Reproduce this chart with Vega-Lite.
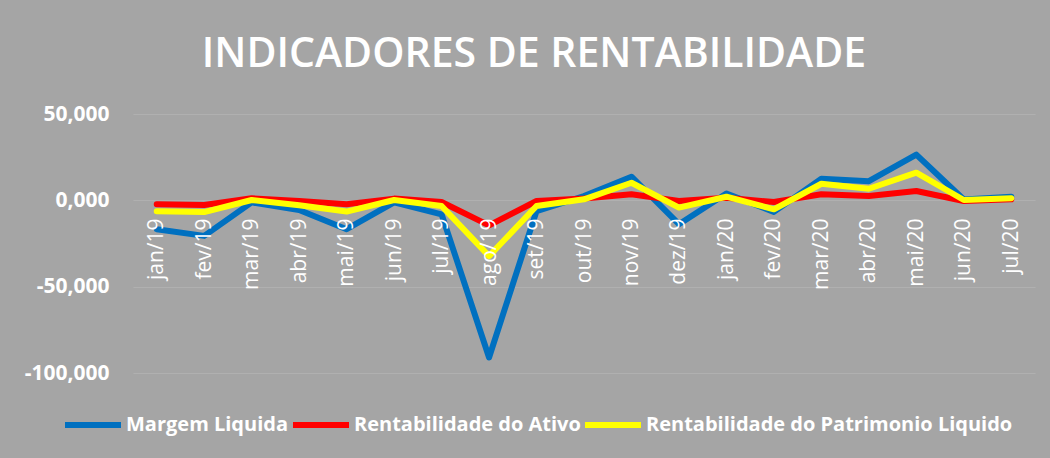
{
  "$schema": "https://vega.github.io/schema/vega-lite/v6.json",
  "width": 902,
  "height": 259,
  "autosize": {"type": "none"},
  "padding": {"left": 133, "top": 114, "right": 15, "bottom": 85},
  "background": "#A5A5A5",
  "title": {
    "text": "INDICADORES DE RENTABILIDADE",
    "color": "white",
    "font": "Open Sans",
    "fontSize": 41,
    "fontWeight": 600,
    "anchor": "middle",
    "frame": "group",
    "baseline": "alphabetic",
    "dx": -50,
    "offset": -5
  },
  "data": {
    "values": [
      {"mes": "jan/19", "serie": "Margem Liquida", "valor": -16.7},
      {"mes": "fev/19", "serie": "Margem Liquida", "valor": -20.6},
      {"mes": "mar/19", "serie": "Margem Liquida", "valor": -1.2},
      {"mes": "abr/19", "serie": "Margem Liquida", "valor": -5.6},
      {"mes": "mai/19", "serie": "Margem Liquida", "valor": -16.7},
      {"mes": "jun/19", "serie": "Margem Liquida", "valor": -1.2},
      {"mes": "jul/19", "serie": "Margem Liquida", "valor": -8.1},
      {"mes": "ago/19", "serie": "Margem Liquida", "valor": -91.0},
      {"mes": "set/19", "serie": "Margem Liquida", "valor": -6.2},
      {"mes": "out/19", "serie": "Margem Liquida", "valor": 2.5},
      {"mes": "nov/19", "serie": "Margem Liquida", "valor": 13.7},
      {"mes": "dez/19", "serie": "Margem Liquida", "valor": -13.8},
      {"mes": "jan/20", "serie": "Margem Liquida", "valor": 3.9},
      {"mes": "fev/20", "serie": "Margem Liquida", "valor": -6.7},
      {"mes": "mar/20", "serie": "Margem Liquida", "valor": 12.5},
      {"mes": "abr/20", "serie": "Margem Liquida", "valor": 11.1},
      {"mes": "mai/20", "serie": "Margem Liquida", "valor": 26.5},
      {"mes": "jun/20", "serie": "Margem Liquida", "valor": 0.5},
      {"mes": "jul/20", "serie": "Margem Liquida", "valor": 2.1},
      {"mes": "jan/19", "serie": "Rentabilidade do Ativo", "valor": -2.3},
      {"mes": "fev/19", "serie": "Rentabilidade do Ativo", "valor": -2.7},
      {"mes": "mar/19", "serie": "Rentabilidade do Ativo", "valor": 1.2},
      {"mes": "abr/19", "serie": "Rentabilidade do Ativo", "valor": -0.4},
      {"mes": "mai/19", "serie": "Rentabilidade do Ativo", "valor": -2.3},
      {"mes": "jun/19", "serie": "Rentabilidade do Ativo", "valor": 1.0},
      {"mes": "jul/19", "serie": "Rentabilidade do Ativo", "valor": -1.0},
      {"mes": "ago/19", "serie": "Rentabilidade do Ativo", "valor": -14.5},
      {"mes": "set/19", "serie": "Rentabilidade do Ativo", "valor": -0.4},
      {"mes": "out/19", "serie": "Rentabilidade do Ativo", "valor": 1.0},
      {"mes": "nov/19", "serie": "Rentabilidade do Ativo", "valor": 3.5},
      {"mes": "dez/19", "serie": "Rentabilidade do Ativo", "valor": -0.4},
      {"mes": "jan/20", "serie": "Rentabilidade do Ativo", "valor": 1.5},
      {"mes": "fev/20", "serie": "Rentabilidade do Ativo", "valor": -1.0},
      {"mes": "mar/20", "serie": "Rentabilidade do Ativo", "valor": 3.5},
      {"mes": "abr/20", "serie": "Rentabilidade do Ativo", "valor": 2.5},
      {"mes": "mai/20", "serie": "Rentabilidade do Ativo", "valor": 5.4},
      {"mes": "jun/20", "serie": "Rentabilidade do Ativo", "valor": -0.4},
      {"mes": "jul/20", "serie": "Rentabilidade do Ativo", "valor": 0.6},
      {"mes": "jan/19", "serie": "Rentabilidade do Patrimonio Liquido", "valor": -6.3},
      {"mes": "fev/19", "serie": "Rentabilidade do Patrimonio Liquido", "valor": -6.8},
      {"mes": "mar/19", "serie": "Rentabilidade do Patrimonio Liquido", "valor": 0.2},
      {"mes": "abr/19", "serie": "Rentabilidade do Patrimonio Liquido", "valor": -2.9},
      {"mes": "mai/19", "serie": "Rentabilidade do Patrimonio Liquido", "valor": -6.5},
      {"mes": "jun/19", "serie": "Rentabilidade do Patrimonio Liquido", "valor": 0.2},
      {"mes": "jul/19", "serie": "Rentabilidade do Patrimonio Liquido", "valor": -3.3},
      {"mes": "ago/19", "serie": "Rentabilidade do Patrimonio Liquido", "valor": -32.3},
      {"mes": "set/19", "serie": "Rentabilidade do Patrimonio Liquido", "valor": -3.3},
      {"mes": "out/19", "serie": "Rentabilidade do Patrimonio Liquido", "valor": 0.6},
      {"mes": "nov/19", "serie": "Rentabilidade do Patrimonio Liquido", "valor": 10.2},
      {"mes": "dez/19", "serie": "Rentabilidade do Patrimonio Liquido", "valor": -4.2},
      {"mes": "jan/20", "serie": "Rentabilidade do Patrimonio Liquido", "valor": 2.1},
      {"mes": "fev/20", "serie": "Rentabilidade do Patrimonio Liquido", "valor": -5.2},
      {"mes": "mar/20", "serie": "Rentabilidade do Patrimonio Liquido", "valor": 9.6},
      {"mes": "abr/20", "serie": "Rentabilidade do Patrimonio Liquido", "valor": 6.7},
      {"mes": "mai/20", "serie": "Rentabilidade do Patrimonio Liquido", "valor": 16.0},
      {"mes": "jun/20", "serie": "Rentabilidade do Patrimonio Liquido", "valor": 0.2},
      {"mes": "jul/20", "serie": "Rentabilidade do Patrimonio Liquido", "valor": 1.2}
    ]
  },
  "mark": {"type": "line", "strokeWidth": 6, "strokeCap": "round", "strokeJoin": "round"},
  "encoding": {
    "x": {
      "field": "mes",
      "type": "ordinal",
      "sort": null,
      "scale": {"type": "point", "padding": 0.5},
      "axis": {
        "title": null,
        "grid": false,
        "domain": false,
        "ticks": false,
        "labelAngle": 270,
        "labelAlign": "right",
        "labelBaseline": "middle",
        "labelColor": "white",
        "labelFont": "Open Sans",
        "labelFontSize": 21,
        "labelPadding": 17,
        "offset": -172,
        "zindex": 1
      }
    },
    "y": {
      "field": "valor",
      "type": "quantitative",
      "scale": {"domain": [-100, 50], "nice": false, "zero": false},
      "axis": {
        "title": null,
        "values": [-100, -50, 0, 50],
        "labelExpr": "(datum.value < 0 ? '-' : '') + abs(datum.value) + ',000'",
        "grid": true,
        "gridColor": "#B0B0B0",
        "gridWidth": 1,
        "domain": false,
        "ticks": false,
        "labelColor": "white",
        "labelFont": "Open Sans",
        "labelFontSize": 21,
        "labelFontWeight": "bold",
        "labelPadding": 24
      }
    },
    "color": {
      "field": "serie",
      "type": "nominal",
      "sort": null,
      "scale": {
        "domain": ["Margem Liquida", "Rentabilidade do Ativo", "Rentabilidade do Patrimonio Liquido"],
        "range": ["#0070C0", "#FF0000", "#FFFF00"]
      },
      "legend": {
        "title": null,
        "orient": "none",
        "direction": "horizontal",
        "legendX": -71,
        "legendY": 280,
        "symbolType": "stroke",
        "symbolStrokeWidth": 6,
        "symbolSize": 3136,
        "labelColor": "white",
        "labelFont": "Open Sans",
        "labelFontSize": 20,
        "labelFontWeight": "bold",
        "labelOffset": 2,
        "labelLimit": 500,
        "columnPadding": -8
      }
    }
  },
  "config": {
    "view": {"stroke": null}
  }
}
